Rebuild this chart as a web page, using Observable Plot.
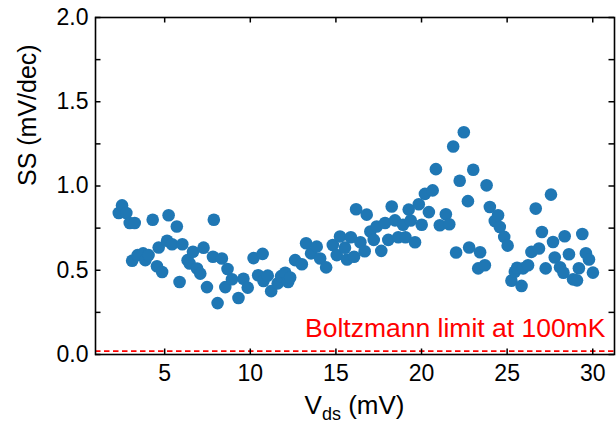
<!DOCTYPE html>
<html>
<head>
<meta charset="utf-8">
<script src="https://cdn.jsdelivr.net/npm/d3@7"></script>
<script src="https://cdn.jsdelivr.net/npm/@observablehq/plot@0.6"></script>
<style>
  html, body { margin: 0; padding: 0; background: #fff; }
  #chart { width: 616px; height: 428px; }
</style>
</head>
<body>
<div id="chart"></div>
<script>
// Vds (mV)
const vds = [
  2.32, 2.51, 2.76, 2.96, 3.10, 3.25, 3.42, 3.74, 3.87, 4.06,
  4.30, 4.55, 4.65, 4.85, 5.14, 5.23, 5.43, 5.71, 5.87, 6.03,
  6.34, 6.46, 6.65, 6.89, 7.08, 7.27, 7.47, 7.82, 7.87, 8.09,
  8.34, 8.54, 8.67, 8.93, 9.31, 9.60, 9.85, 10.19, 10.46, 10.72,
  10.77, 11.02, 11.22, 11.60, 11.80, 12.04, 12.21, 12.33, 12.62, 13.01,
  13.26, 13.55, 13.88, 14.08, 14.43, 14.82, 15.05, 15.24, 15.53, 15.65,
  15.87, 16.06, 16.18, 16.43, 16.68, 16.80, 17.01, 17.21, 17.38, 17.65,
  17.87, 18.06, 18.26, 18.45, 18.64, 18.92, 19.06, 19.25, 19.37, 19.62,
  19.84, 20.01, 20.20, 20.43, 20.65, 20.84, 21.07, 21.42, 21.62, 21.85,
  22.02, 22.23, 22.47, 22.71, 22.78, 23.02, 23.31, 23.42, 23.70, 23.80,
  23.99, 24.28, 24.47, 24.57, 24.83, 25.03, 25.25, 25.45, 25.58, 25.84,
  25.93, 26.22, 26.42, 26.67, 26.86, 27.03, 27.25, 27.56, 27.68, 27.78,
  28.09, 28.29, 28.36, 28.61, 28.85, 29.08, 29.19, 29.39, 29.60, 29.78, 30.01
];
// SS (mV/dec)
const ss = [
  0.84, 0.885, 0.84, 0.78, 0.556, 0.78, 0.59, 0.60, 0.56, 0.59,
  0.80, 0.524, 0.635, 0.49, 0.675, 0.826, 0.654, 0.76, 0.43, 0.654,
  0.56, 0.54, 0.61, 0.51, 0.48, 0.634, 0.40, 0.58, 0.80, 0.305,
  0.57, 0.40, 0.507, 0.447, 0.335, 0.45, 0.397, 0.572, 0.47, 0.597,
  0.436, 0.468, 0.376, 0.422, 0.465, 0.485, 0.43, 0.457, 0.56, 0.536,
  0.66, 0.60, 0.64, 0.57, 0.517, 0.65, 0.59, 0.70, 0.634, 0.564,
  0.696, 0.58, 0.862, 0.666, 0.613, 0.83, 0.73, 0.68, 0.76, 0.615,
  0.78, 0.68, 0.878, 0.796, 0.696, 0.77, 0.696, 0.86, 0.795, 0.666,
  0.892, 0.77, 0.953, 0.845, 0.974, 1.10, 0.767, 0.832, 0.773, 1.234,
  0.605, 1.031, 1.319, 0.91, 0.635, 1.096, 0.511, 0.607, 0.53, 1.004,
  0.875, 0.792, 0.826, 0.757, 0.698, 0.646, 0.438, 0.491, 0.515, 0.407,
  0.511, 0.53, 0.609, 0.866, 0.629, 0.727, 0.511, 0.949, 0.668, 0.576,
  0.518, 0.485, 0.702, 0.595, 0.446, 0.44, 0.512, 0.715, 0.601, 0.564, 0.486
];
const xTicks = [5, 10, 15, 20, 25, 30];
const yTicks = [0, 0.25, 0.5, 0.75, 1.0, 1.25, 1.5, 1.75, 2.0];
const yLabelTicks = [0, 0.5, 1.0, 1.5, 2.0];
const boltzmannLimit = [0.02];
const boltzmannLabel = ["Boltzmann limit at 100mK"];
const yAxisLabel = ["SS (mV/dec)"];

const data = vds.map((v, i) => ({vds: v, ss: ss[i]}));

const W = 616, H = 428;
const mL = 95, mR = 2, mT = 17, mB = 74;
const innerW = W - mL - mR, innerH = H - mT - mB;
const tickLen = 5.5;

const chart = Plot.plot({
  width: W,
  height: H,
  marginLeft: mL,
  marginRight: mR,
  marginTop: mT,
  marginBottom: mB,
  style: {fontFamily: "'Liberation Sans', Arial, sans-serif", fontSize: "23px", background: "#fff", color: "#000"},
  x: {domain: [0.96, 31.27]},
  y: {domain: [0, 2]},
  marks: [
    Plot.ruleY(boltzmannLimit, {stroke: "#ff0000", strokeWidth: 1.6, strokeDasharray: "5.5,3.5"}),
    Plot.dot(data, {x: "vds", y: "ss", r: 6.3, fill: "#1f77b4", stroke: "none"}),
    Plot.text(boltzmannLabel, {frameAnchor: "bottom-right", dx: -9, dy: -18, textAnchor: "end", fill: "#ff0000", fontSize: 26.5}),
    Plot.ruleX(xTicks, {x: d => d, insetTop: innerH - tickLen, stroke: "#000", strokeWidth: 1.5}),
    Plot.ruleX(xTicks, {x: d => d, insetBottom: innerH - tickLen, stroke: "#000", strokeWidth: 1.5}),
    Plot.ruleY(yTicks, {y: d => d, insetRight: innerW - tickLen, stroke: "#000", strokeWidth: 1.5}),
    Plot.ruleY(yTicks, {y: d => d, insetLeft: innerW - tickLen, stroke: "#000", strokeWidth: 1.5}),
    Plot.frame({stroke: "#000", strokeWidth: 1.6}),
    Plot.axisX({ticks: xTicks, tickSize: 0, tickPadding: 10, label: null, fontSize: 23}),
    Plot.axisY({ticks: yLabelTicks, tickSize: 0, tickPadding: 7, tickFormat: d3.format(".1f"), label: null, fontSize: 23}),
    Plot.text(yAxisLabel, {frameAnchor: "left", dx: -68, rotate: -90, fontSize: 25, fill: "#000"})
  ]
});

// x-axis title with subscript
const svg = d3.select(chart);
const t = svg.append("text")
  .attr("x", mL + innerW / 2)
  .attr("y", H - 14)
  .attr("text-anchor", "middle")
  .attr("font-size", 26)
  .attr("fill", "#000");
t.append("tspan").text("V");
t.append("tspan").attr("dy", 6).attr("font-size", 18).text("ds");
t.append("tspan").attr("dy", -6).text(" (mV)");

document.getElementById("chart").appendChild(chart);
</script>
</body>
</html>
